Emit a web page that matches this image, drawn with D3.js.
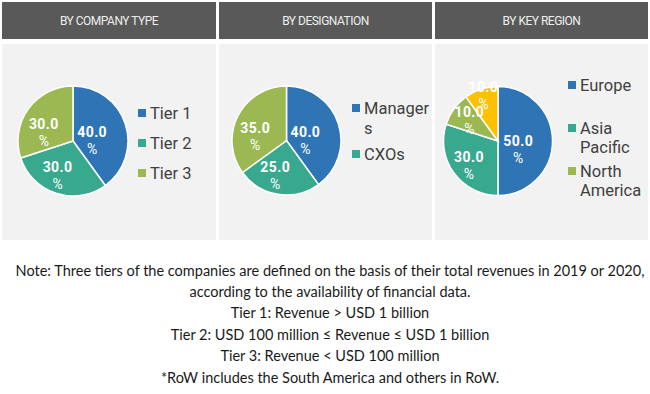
<!DOCTYPE html>
<html>
<head>
<meta charset="utf-8">
<script src="https://cdn.jsdelivr.net/npm/d3@7"></script>
<style>
  html, body { margin: 0; padding: 0; background: #ffffff; }
  svg { display: block; }
</style>
</head>
<body>
<svg id="chart" width="650" height="394"></svg>
<script>
// ---------------- DATA ----------------
const panelTitles = ["BY COMPANY TYPE", "BY DESIGNATION", "BY KEY REGION"];

const companyTypeCategories = ["Tier 1", "Tier 2", "Tier 3"];
const companyTypeValues = [40.0, 30.0, 30.0];

const designationCategories = ["Managers", "CXOs", "Others"];
const designationValues = [40.0, 25.0, 35.0];

const regionCategories = ["Europe", "Asia Pacific", "North America", "RoW"];
const regionValues = [50.0, 30.0, 10.0, 10.0];

// legend text as it appears (wrapped) in the picture
const companyTypeLegend = [["Tier 1"], ["Tier 2"], ["Tier 3"]];
const designationLegend = [["Manager", "s"], ["CXOs"]];
const regionLegend = [["Europe"], ["Asia", "Pacific"], ["North", "America"]];

const noteLines = [
  "Note: Three tiers of the companies are defined on the basis of their total revenues in 2019 or 2020,",
  "according to the availability of financial data.",
  "Tier 1: Revenue > USD 1 billion",
  "Tier 2: USD 100 million \u2264 Revenue \u2264 USD 1 billion",
  "Tier 3: Revenue < USD 100 million",
  "*RoW includes the South America and others in RoW."
];

// ---------------- STYLE / LAYOUT ----------------
const sliceColors = ["#2f75b5", "#38a88e", "#9bb853", "#ffc000"];
const colorScale = d3.scaleOrdinal().range(sliceColors);

const panels = [
  { x0: 2,   x1: 216, title: panelTitles[0], cats: companyTypeCategories, vals: companyTypeValues, legend: companyTypeLegend,
    cx: 73,    cy: 141,   r: 55, legX: 138, legY: 113, legStep: 30, lineH: 20 },
  { x0: 219, x1: 432, title: panelTitles[1], cats: designationCategories, vals: designationValues, legend: designationLegend,
    cx: 286.5, cy: 140.5, r: 54.5, legX: 352, legY: 108, legStep: 46, lineH: 20 },
  { x0: 435, x1: 648, title: panelTitles[2], cats: regionCategories, vals: regionValues, legend: regionLegend,
    cx: 498,   cy: 141,   r: 54.5, legX: 568, legY: 85, legStep: 43, lineH: 19 }
];

const svg = d3.select("#chart");

const pie = d3.pie().sort(null).value(d => d.value);
const fmt = d3.format(".1f");

panels.forEach(p => {
  const g = svg.append("g");

  // header
  g.append("rect")
    .attr("x", p.x0).attr("y", 2)
    .attr("width", p.x1 - p.x0).attr("height", 37)
    .attr("fill", "#595959");
  g.append("text")
    .attr("x", (p.x0 + p.x1) / 2).attr("y", 21)
    .attr("text-anchor", "middle")
    .attr("dominant-baseline", "central")
    .attr("font-family", "Roboto, 'Liberation Sans', sans-serif")
    .attr("font-size", 12)
    .attr("letter-spacing", "-0.5px")
    .attr("fill", "#eeeeee")
    .text(p.title);

  // body
  g.append("rect")
    .attr("x", p.x0).attr("y", 44)
    .attr("width", p.x1 - p.x0).attr("height", 196)
    .attr("fill", "#f2f2f2");

  // pie
  const data = p.cats.map((c, i) => ({ cat: c, value: p.vals[i] }));
  const arcs = pie(data);
  const arc = d3.arc().innerRadius(0).outerRadius(p.r);
  const pg = g.append("g").attr("transform", `translate(${p.cx},${p.cy})`);
  pg.selectAll("path")
    .data(arcs)
    .join("path")
    .attr("d", arc)
    .attr("fill", (d, i) => colorScale(i))
    .attr("stroke", "#ffffff")
    .attr("stroke-width", 1.5);

  // labels: large slices at half radius (Excel-like box shift), small slices pushed outward
  const total = d3.sum(p.vals);
  let smallRun = 0;
  arcs.forEach((d, i) => {
    const frac = d.value / total;
    const mid = (d.startAngle + d.endAngle) / 2;
    let lx, ly;
    if (frac >= 0.15) {
      smallRun = 0;
      const c = d3.arc().innerRadius(0).outerRadius(p.r).centroid(d); // r/2 centroid
      lx = c[0] - 7; ly = c[1] + 8;
    } else {
      const rr = p.r * (0.65 + 0.22 * smallRun);
      smallRun++;
      lx = Math.sin(mid) * rr; ly = -Math.cos(mid) * rr;
    }
    const t = pg.append("text")
      .attr("text-anchor", "middle")
      .attr("font-family", "Roboto, 'DejaVu Sans', sans-serif")
      .attr("fill", "#ffffff");
    t.append("tspan")
      .attr("x", lx).attr("y", ly - 8.5)
      .attr("dominant-baseline", "central")
      .attr("font-weight", "bold")
      .attr("font-size", 14)
      .attr("letter-spacing", "0.4px")
      .text(fmt(d.value));
    t.append("tspan")
      .attr("x", lx).attr("y", ly + 8.5)
      .attr("dominant-baseline", "central")
      .attr("font-size", 14)
      .text("%");
  });

  // legend
  const lg = g.append("g");
  p.legend.forEach((lines, i) => {
    const y0 = p.legY + i * p.legStep;
    lg.append("rect")
      .attr("x", p.legX).attr("y", y0 - 4)
      .attr("width", 8).attr("height", 8)
      .attr("fill", colorScale(i));
    const t = lg.append("text")
      .attr("font-family", "Roboto, 'Liberation Sans', sans-serif")
      .attr("font-size", 16.5)
      .attr("fill", "#404040");
    lines.forEach((ln, k) => {
      t.append("tspan")
        .attr("x", p.legX + 12)
        .attr("y", y0 + k * p.lineH)
        .attr("dominant-baseline", "central")
        .text(ln);
    });
  });
});

// note text
const noteY = d3.scaleLinear().domain([0, noteLines.length - 1]).range([270, 377]);
svg.append("g").selectAll("text")
  .data(noteLines)
  .join("text")
  .attr("x", 330)
  .attr("y", (d, i) => noteY(i))
  .attr("text-anchor", "middle")
  .attr("dominant-baseline", "central")
  .attr("font-family", "Lato, 'Open Sans', sans-serif")
  .attr("font-size", 14.5)
  .attr("fill", "#1a1a1a")
  .text(d => d);
</script>
</body>
</html>
